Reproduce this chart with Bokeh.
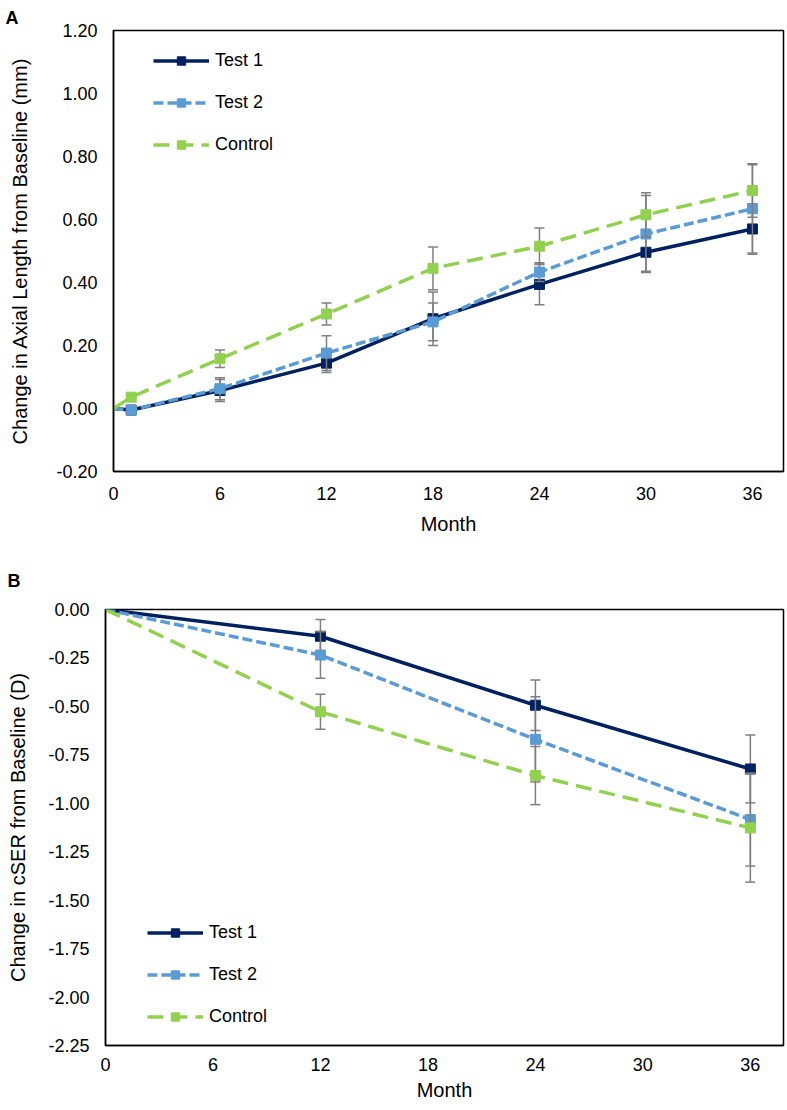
from bokeh.plotting import figure
from bokeh.layouts import column, row
from bokeh.models import Range1d, FixedTicker, NumeralTickFormatter, Legend, LegendItem
from bokeh.embed import file_html
from bokeh.resources import INLINE

# ---------------- data ----------------
series_names = ["Test 1", "Test 2", "Control"]
x_ticks = [0, 6, 12, 18, 24, 30, 36]

# Panel A: change in axial length (mm)
months_a = [0, 1, 6, 12, 18, 24, 30, 36]
test1_a = [0.0, -0.005, 0.057, 0.144, 0.285, 0.394, 0.496, 0.570]
test2_a = [0.0, -0.005, 0.063, 0.176, 0.275, 0.433, 0.554, 0.634]
control_a = [0.0, 0.036, 0.158, 0.300, 0.445, 0.515, 0.615, 0.692]
test1_a_err = [0.0, 0.0, 0.035, 0.030, 0.085, 0.065, 0.060, 0.080]
test2_a_err = [0.0, 0.0, 0.035, 0.055, 0.060, 0.030, 0.122, 0.140]
control_a_err = [0.0, 0.0, 0.028, 0.035, 0.068, 0.058, 0.070, 0.085]
y_ticks_a = [-0.2, 0.0, 0.2, 0.4, 0.6, 0.8, 1.0, 1.2]

# Panel B: change in cSER (D)
months_b = [0, 12, 24, 36]
test1_b = [0.0, -0.138, -0.494, -0.823]
test2_b = [0.0, -0.235, -0.670, -1.084]
control_b = [0.0, -0.528, -0.857, -1.127]
test1_b_err = [0.0, 0.087, 0.130, 0.175]
test2_b_err = [0.0, 0.120, 0.220, 0.240]
control_b_err = [0.0, 0.090, 0.150, 0.280]
y_ticks_b = [-2.25, -2.0, -1.75, -1.5, -1.25, -1.0, -0.75, -0.5, -0.25, 0.0]

# ---------------- style ----------------
FONT = "Liberation Sans"
COLORS = ["#002060", "#5B9BD5", "#92D050"]
DASHES = ["solid", "10 4", "16 8"]
GRAY = "#7F7F7F"


def make_fig(frame_w, frame_h, left, top, bottom, xr, yr, yticks, ylabel,
             ylabel_standoff, xtick_standoff, xlabel_standoff,
             panel_letter, letter_offset, letter_standoff):
    p = figure(frame_width=frame_w, frame_height=frame_h,
               min_border_left=left, min_border_right=2,
               min_border_top=top, min_border_bottom=bottom,
               x_range=Range1d(*xr), y_range=Range1d(*yr),
               output_backend="svg", toolbar_location=None)
    p.grid.visible = False
    p.outline_line_color = "black"
    p.outline_line_width = 1.5
    p.background_fill_color = "white"
    p.border_fill_color = "white"

    p.title.text = panel_letter
    p.title.align = "left"
    p.title.offset = letter_offset
    p.title.standoff = letter_standoff
    p.title.vertical_align = "bottom"
    p.title.text_font = FONT
    p.title.text_font_size = "18px"
    p.title.text_font_style = "bold"
    p.title.text_color = "black"

    p.xaxis.ticker = FixedTicker(ticks=x_ticks)
    p.yaxis.ticker = FixedTicker(ticks=yticks)
    p.yaxis.formatter = NumeralTickFormatter(format="0.00")
    for ax in (p.xaxis[0], p.yaxis[0]):
        ax.axis_line_color = "black"
        ax.axis_line_width = 1.5
        ax.major_tick_line_color = None
        ax.minor_tick_line_color = None
        ax.major_tick_out = 0
        ax.major_tick_in = 0
        ax.major_label_text_font = FONT
        ax.major_label_text_font_size = "18px"
        ax.major_label_text_color = "black"
        ax.axis_label_text_font = FONT
        ax.axis_label_text_font_size = "20px"
        ax.axis_label_text_font_style = "normal"
        ax.axis_label_text_color = "black"
    p.yaxis.major_label_standoff = 16
    p.yaxis.axis_label = ylabel
    p.yaxis.axis_label_standoff = ylabel_standoff
    p.xaxis.major_label_standoff = xtick_standoff
    p.xaxis.axis_label = "Month"
    p.xaxis.axis_label_standoff = xlabel_standoff
    return p


def draw_series(p, months, values_list, errs_list):
    items = []
    for name, vals, errs, color, dash in zip(series_names, values_list, errs_list, COLORS, DASHES):
        line = p.line(months, vals, line_color=color, line_width=3.5, line_dash=dash)
        ex = [m for m, e in zip(months, errs) if e > 0]
        lo = [v - e for v, e in zip(vals, errs) if e > 0]
        hi = [v + e for v, e in zip(vals, errs) if e > 0]
        p.segment(x0=ex, y0=lo, x1=ex, y1=hi, line_color=GRAY, line_width=1.5)
        p.scatter(ex, lo, marker="dash", size=10, line_color=GRAY, line_width=1.5)
        p.scatter(ex, hi, marker="dash", size=10, line_color=GRAY, line_width=1.5)
        mk = p.scatter(months[1:], vals[1:], marker="square", size=10,
                       fill_color=color, line_color=color, line_width=1)
        items.append(LegendItem(label=name, renderers=[line, mk]))
    return items


def add_legend(p, items, loc):
    lg = Legend(items=items, location=loc, padding=0, margin=0, spacing=21,
                glyph_width=56, glyph_height=21, label_height=21, label_standoff=6,
                label_text_font=FONT, label_text_font_size="18px",
                label_text_color="black", border_line_color=None,
                background_fill_alpha=0.0)
    p.add_layout(lg)


# ---------------- panel A ----------------
pa = make_fig(670, 441, 113, 30, 77, (0, 37.75), (-0.2, 1.2), y_ticks_a,
              "Change in Axial Length from Baseline (mm)", 22, 15, 10,
              "A", -108, 6)
items_a = draw_series(pa, months_a, [test1_a, test2_a, control_a],
                      [test1_a_err, test2_a_err, control_a_err])
add_legend(pa, items_a, (40, 316))

# ---------------- panel B ----------------
pb = make_fig(678, 436, 105, 61, 59, (0, 37.85), (-2.25, 0.0), y_ticks_b,
              "Change in cSER from Baseline (D)", 16, 12, 5,
              "B", -98, 38)
items_b = draw_series(pb, months_b, [test1_b, test2_b, control_b],
                      [test1_b_err, test2_b_err, control_b_err])
add_legend(pb, items_b, (42, 18))

layout = column(row(pa), row(pb))
open("out.html", "w").write(file_html(layout, INLINE))
